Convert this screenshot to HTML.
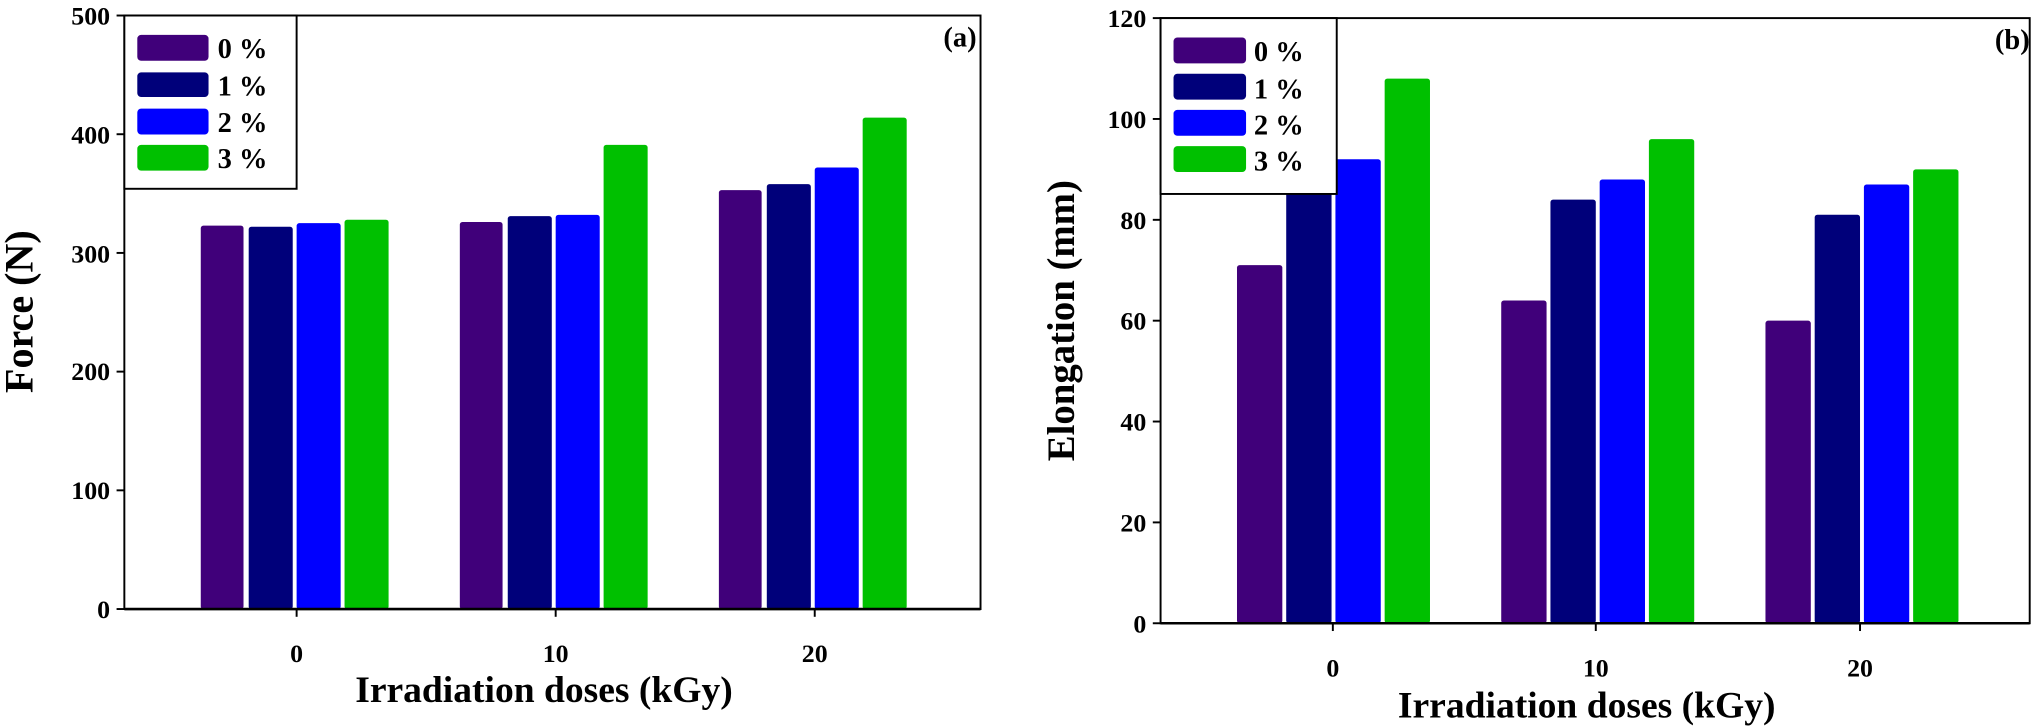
<!DOCTYPE html>
<html><head><style>html,body{margin:0;padding:0;background:#fff}svg{display:block}</style></head><body>
<svg width="2031" height="728" viewBox="0 0 1568 563" preserveAspectRatio="none" xmlns="http://www.w3.org/2000/svg" font-family="Liberation Serif, serif" font-weight="bold">
<!-- Panel a -->
<g>
<rect x="96" y="12" width="661" height="459" fill="none" stroke="#000" stroke-width="1.5"/>
<g fill="#40007a">
<rect x="155" y="174.5" width="33" height="296.5" rx="2"/><rect x="355" y="171.7" width="33" height="299.3" rx="2"/><rect x="555" y="147" width="33" height="324" rx="2"/></g>
<g fill="#00007a">
<rect x="192" y="175.4" width="34" height="295.6" rx="2"/><rect x="392" y="167.1" width="34" height="303.9" rx="2"/><rect x="592" y="142.4" width="34" height="328.6" rx="2"/></g>
<g fill="#0000ff">
<rect x="229" y="172.6" width="34" height="298.4" rx="2"/><rect x="429" y="166.2" width="34" height="304.8" rx="2"/><rect x="629" y="129.5" width="34" height="341.5" rx="2"/></g>
<g fill="#00c000">
<rect x="266" y="169.9" width="34" height="301.1" rx="2"/><rect x="466" y="112" width="34" height="359" rx="2"/><rect x="666" y="91" width="34" height="380" rx="2"/></g>
<line x1="96" y1="471" x2="757" y2="471" stroke="#000" stroke-width="2"/>
<g stroke="#000" stroke-width="1.5">
<line x1="90" y1="471" x2="96" y2="471"/><line x1="90" y1="379.2" x2="96" y2="379.2"/><line x1="90" y1="287.4" x2="96" y2="287.4"/><line x1="90" y1="195.6" x2="96" y2="195.6"/><line x1="90" y1="103.8" x2="96" y2="103.8"/><line x1="90" y1="12" x2="96" y2="12"/>
<line x1="229" y1="471" x2="229" y2="477"/><line x1="429" y1="471" x2="429" y2="477"/><line x1="629" y1="471" x2="629" y2="477"/></g>
<g font-size="20" text-anchor="end">
<text x="85" y="478">0</text><text x="85" y="386">100</text><text x="85" y="294">200</text><text x="85" y="203">300</text><text x="85" y="111">400</text><text x="85" y="19">500</text></g>
<g font-size="20" text-anchor="middle">
<text x="229" y="512">0</text><text x="429" y="512">10</text><text x="629" y="512">20</text></g>
<text x="420" y="543" font-size="29" text-anchor="middle">Irradiation doses (kGy)</text>
<text transform="translate(25,241) rotate(-90)" font-size="31" text-anchor="middle">Force (N)</text>
<text x="754" y="36" font-size="22" text-anchor="end">(a)</text>
<rect x="96" y="12" width="133" height="134" fill="#fff" stroke="#000" stroke-width="1.5"/>
<rect x="106" y="27" width="55" height="20" rx="3" fill="#40007a"/>
<rect x="106" y="56" width="55" height="19" rx="3" fill="#00007a"/>
<rect x="106" y="84" width="55" height="20" rx="3" fill="#0000ff"/>
<rect x="106" y="112" width="55" height="20" rx="3" fill="#00c000"/>
<g font-size="22"><text x="168" y="45">0 %</text><text x="168" y="74">1 %</text><text x="168" y="102">2 %</text><text x="168" y="130">3 %</text></g>
</g>
<!-- Panel b -->
<g>
<rect x="896" y="14" width="671" height="468" fill="none" stroke="#000" stroke-width="1.5"/>
<g fill="#40007a">
<rect x="955" y="205" width="35" height="277" rx="2"/><rect x="1159" y="232.4" width="35" height="249.6" rx="2"/><rect x="1363" y="248" width="35" height="234" rx="2"/></g>
<g fill="#00007a">
<rect x="993" y="138.8" width="35" height="343.2" rx="2"/><rect x="1197" y="154.4" width="35" height="327.6" rx="2"/><rect x="1401" y="166.1" width="35" height="315.9" rx="2"/></g>
<g fill="#0000ff">
<rect x="1031" y="123.2" width="35" height="358.8" rx="2"/><rect x="1235" y="138.8" width="35" height="343.2" rx="2"/><rect x="1439" y="142.7" width="35" height="339.3" rx="2"/></g>
<g fill="#00c000">
<rect x="1069" y="60.8" width="35" height="421.2" rx="2"/><rect x="1273" y="107.6" width="35" height="374.4" rx="2"/><rect x="1477" y="131" width="35" height="351" rx="2"/></g>
<line x1="896" y1="482" x2="1567" y2="482" stroke="#000" stroke-width="2"/>
<g stroke="#000" stroke-width="1.5">
<line x1="890" y1="482" x2="896" y2="482"/><line x1="890" y1="404" x2="896" y2="404"/><line x1="890" y1="326" x2="896" y2="326"/><line x1="890" y1="248" x2="896" y2="248"/><line x1="890" y1="170" x2="896" y2="170"/><line x1="890" y1="92" x2="896" y2="92"/><line x1="890" y1="14" x2="896" y2="14"/>
<line x1="1029" y1="482" x2="1029" y2="488"/><line x1="1232" y1="482" x2="1232" y2="488"/><line x1="1436" y1="482" x2="1436" y2="488"/></g>
<g font-size="20" text-anchor="end">
<text x="885" y="489">0</text><text x="885" y="411">20</text><text x="885" y="333">40</text><text x="885" y="255">60</text><text x="885" y="177">80</text><text x="885" y="99">100</text><text x="885" y="21">120</text></g>
<g font-size="20" text-anchor="middle">
<text x="1029" y="523">0</text><text x="1232" y="523">10</text><text x="1436" y="523">20</text></g>
<text x="1225" y="555" font-size="29" text-anchor="middle">Irradiation doses (kGy)</text>
<text transform="translate(829,248) rotate(-90)" font-size="30" text-anchor="middle">Elongation (mm)</text>
<text x="1567" y="38" font-size="22" text-anchor="end">(b)</text>
<rect x="896" y="14" width="136" height="136" fill="#fff" stroke="#000" stroke-width="1.5"/>
<rect x="906" y="29" width="56" height="20" rx="3" fill="#40007a"/>
<rect x="906" y="57" width="56" height="20" rx="3" fill="#00007a"/>
<rect x="906" y="85" width="56" height="20" rx="3" fill="#0000ff"/>
<rect x="906" y="113" width="56" height="20" rx="3" fill="#00c000"/>
<g font-size="22"><text x="968" y="47">0 %</text><text x="968" y="76">1 %</text><text x="968" y="104">2 %</text><text x="968" y="132">3 %</text></g>
</g>
</svg>
</body></html>
